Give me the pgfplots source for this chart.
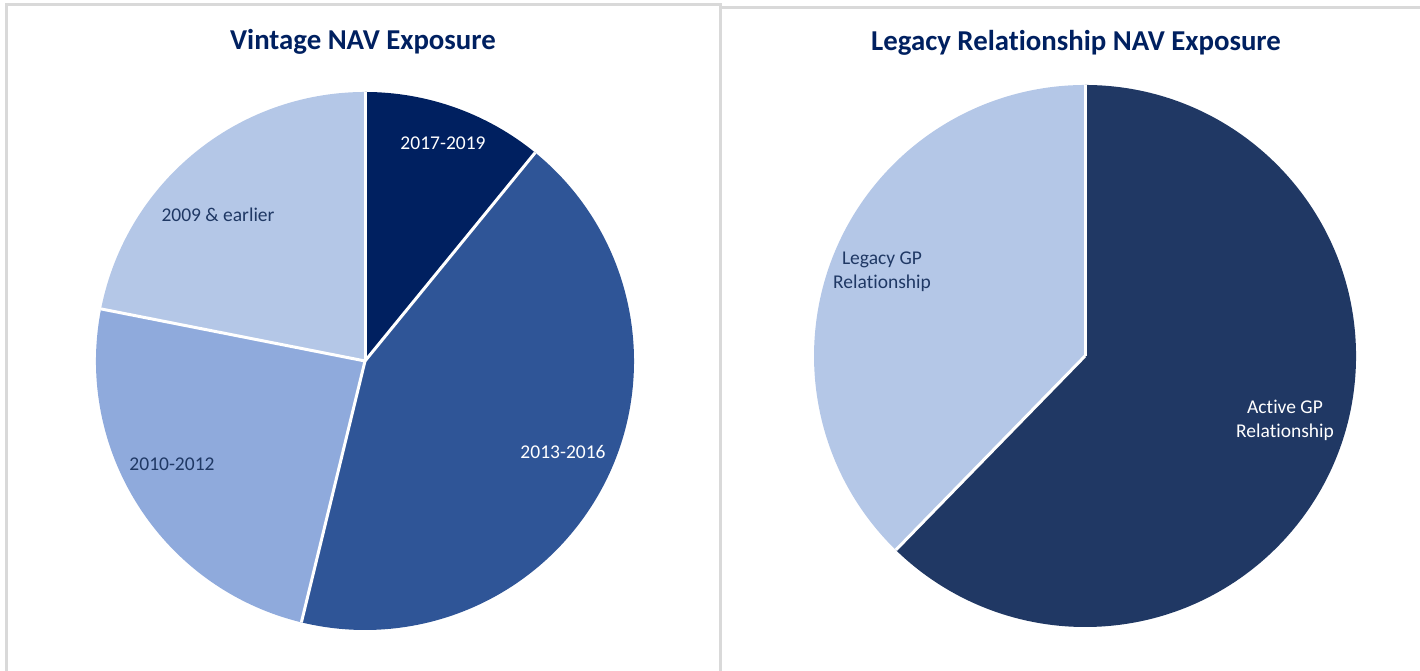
\documentclass[border=0pt]{standalone}
\usepackage{pgfplots}
\pgfplotsset{compat=1.18}
\usepackage{pgfplotstable}
\usepackage{fontspec}
\setmainfont{Carlito}[Ligatures=NoCommon]

\definecolor{navyA}{HTML}{002060}
\definecolor{blueB}{HTML}{2F5597}
\definecolor{blueC}{HTML}{8FAADC}
\definecolor{blueD}{HTML}{B4C7E7}
\definecolor{navyE}{HTML}{203864}
\definecolor{txtdark}{HTML}{1F3864}
\definecolor{frame}{HTML}{D9D9D9}

% share of NAV, in percent, clockwise from 12 o'clock
\pgfplotstableread{
value colour
10.9 navyA
42.9 blueB
24.3 blueC
21.9 blueD
}\vintagetab
\pgfplotstableread{
value colour
62.3 navyE
37.7 blueD
}\legacytab

% draws the slices of a table as a pie of radius #2 (canvas length)
\newcommand\drawpie[2]{%
  \pgfplotstablegetrowsof{#1}%
  \pgfmathtruncatemacro\lastrow{\pgfplotsretval-1}%
  \def\startang{90}%
  \pgfplotsforeachungrouped \i in {0,...,\lastrow}{%
    \pgfplotstablegetelem{\i}{value}\of#1\let\val\pgfplotsretval
    \pgfplotstablegetelem{\i}{colour}\of#1\let\col\pgfplotsretval
    \pgfmathsetmacro\endang{\startang-3.6*\val}%
    \edef\temp{\noexpand\fill[\col] (axis cs:0,0) -- (axis cs:{cos(\startang)},{sin(\startang)})
      arc[start angle=\startang, end angle=\endang, radius=#2] -- cycle;}%
    \temp
    \let\startang\endang
  }%
  \def\startang{90}%
  \pgfplotsforeachungrouped \i in {0,...,\lastrow}{%
    \pgfplotstablegetelem{\i}{value}\of#1\let\val\pgfplotsretval
    \pgfmathsetmacro\endang{\startang-3.6*\val}%
    \edef\temp{\noexpand\draw[white, line width=1.5bp] (axis cs:0,0) -- (axis cs:{cos(\startang)},{sin(\startang)});}%
    \temp
    \let\startang\endang
  }%
}

\pgfplotsset{pie axis/.style={
  hide axis, scale only axis, clip=false,
  xmin=-1, xmax=1, ymin=-1, ymax=1,
  anchor=origin,
}}

\begin{document}
\begin{tikzpicture}[x=0.5bp, y=0.5bp]
\useasboundingbox (0,0) rectangle (1420,671);
\clip (0,0) rectangle (1420,671);

% panel frames
\draw[frame, line width=1.5bp] (6,-20) -- (6,666) -- (720,666) -- (720,-20);
\draw[frame, line width=1.5bp] (721,663) -- (1440,663);

\begin{axis}[pie axis, at={(182.5bp,155bp)}, width=269bp, height=269bp]
  \drawpie{\vintagetab}{134.5bp}
\end{axis}

\begin{axis}[pie axis, at={(542.5bp,157.5bp)}, width=271bp, height=271bp]
  \drawpie{\legacytab}{135.5bp}
\end{axis}

% titles
\node[font=\fontsize{14.4bp}{17bp}\selectfont\bfseries, text=navyA] at (363,629) {Vintage NAV Exposure};
\node[font=\fontsize{14.4bp}{17bp}\selectfont\bfseries, text=navyA] at (1076,628) {Legacy Relationship NAV Exposure};

% slice labels
\begin{scope}[every node/.style={font=\fontsize{9.75bp}{12bp}\selectfont, align=center}]
\node[text=white] at (443,528) {2017-2019};
\node[text=white] at (563,219) {2013-2016};
\node[text=txtdark] at (172,207) {2010-2012};
\node[text=txtdark] at (218,456) {2009 \& earlier};
\node[text=txtdark] at (882,399) {Legacy GP\\Relationship};
\node[text=white] at (1285,251) {Active GP\\Relationship};
\end{scope}
\end{tikzpicture}
\end{document}
